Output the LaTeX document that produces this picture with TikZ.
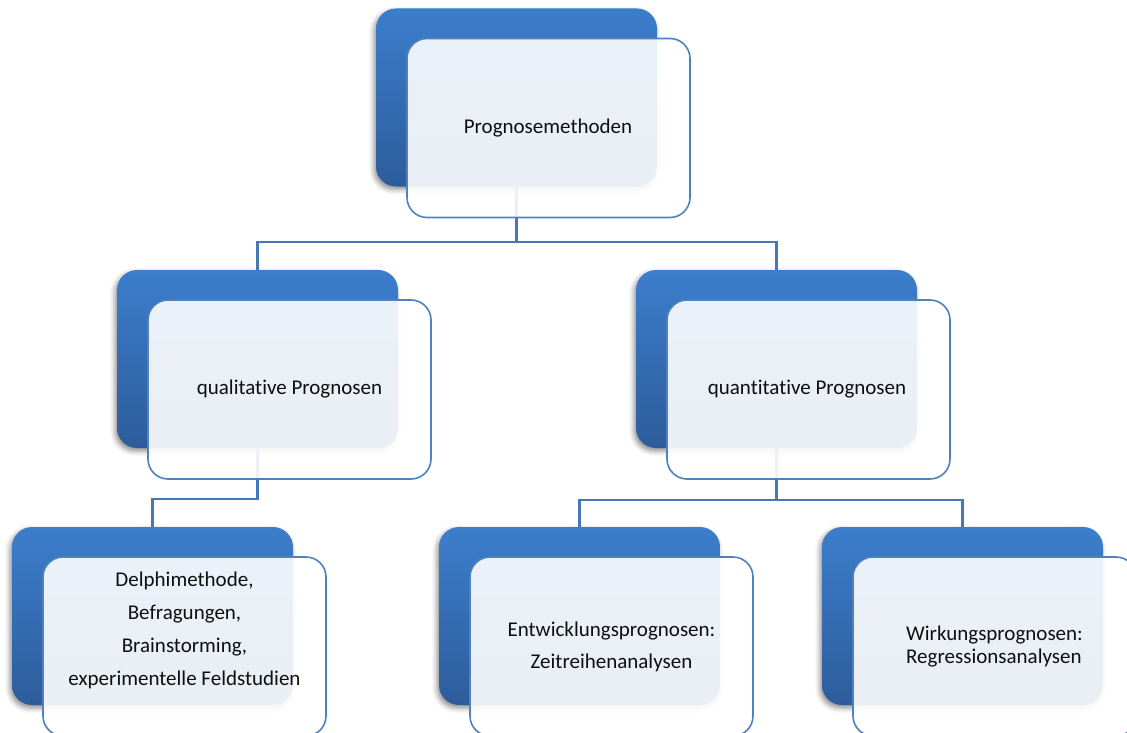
\documentclass[tikz,border=0pt]{standalone}
\usepackage{fontspec}
\setmainfont{Carlito}[Ligatures={NoCommon,NoContextual}]
\usetikzlibrary{shadows.blur}
\definecolor{bluetop}{RGB}{60,126,204}
\definecolor{bluebot}{RGB}{45,92,155}
\definecolor{frameblue}{RGB}{79,129,189}
\definecolor{linkblue}{RGB}{70,120,182}
\definecolor{txt}{RGB}{15,15,15}
\tikzset{
  backbox/.style={rectangle, rounded corners=20pt, minimum width=281pt, minimum height=178pt,
    top color=bluetop, bottom color=bluebot, draw=none, inner sep=0pt,
    blur shadow={shadow xshift=-2pt, shadow yshift=-3pt, shadow blur radius=5pt, shadow opacity=45}},
  frontbox/.style={rectangle, rounded corners=20pt, minimum width=283pt, minimum height=179pt,
    draw=frameblue, line width=1.6pt, fill=white, fill opacity=0.9, inner sep=0pt},
  conn/.style={draw=linkblue, line width=2.2pt},
  lbl/.style={text=txt, font=\fontsize{21}{25}\selectfont, align=center, inner sep=0pt},
}
\begin{document}
\begin{tikzpicture}[x=1pt,y=-1pt]
\useasboundingbox (0,0) rectangle (1127,733);
\clip (0,0) rectangle (1127,733);
% back boxes
\node[backbox] (b1) at (516.5,97.5) {};
\node[backbox] (b2) at (257.5,359) {};
\node[backbox] (b3) at (776.5,359) {};
\node[backbox] (b4) at (152.5,616) {};
\node[backbox] (b5) at (579.5,616) {};
\node[backbox] (b6) at (962.5,616) {};
% connectors
\draw[conn] (b1.south) -- ++(0,55.5) -| (b2.north);
\draw[conn] (b1.south) -- ++(0,55.5) -| (b3.north);
\draw[conn] (b2.south) -- ++(0,51) -| (b4.north);
\draw[conn] (b3.south) -- ++(0,52) -| (b5.north);
\draw[conn] (b3.south) -- ++(0,52) -| (b6.north);
% front boxes
\node[frontbox] (f1) at (548.5,128) {};
\node[frontbox] (f2) at (289.5,389.5) {};
\node[frontbox] (f3) at (808.5,389.5) {};
\node[frontbox] (f4) at (184.5,646.5) {};
\node[frontbox] (f5) at (611.5,646.5) {};
\node[frontbox] (f6) at (994.5,646.5) {};
% labels
\node[lbl] (t1) at ([xshift=-0.5pt]f1.center) {Prognosemethoden};
\node[lbl] (t2) at (f2.center) {qualitative Prognosen};
\node[lbl] (t3) at ([xshift=-1.5pt]f3.center) {quantitative Prognosen};
\node[lbl, font=\fontsize{21}{33}\selectfont] (t4) at ([yshift=16.5pt]f4.center)
  {Delphimethode,\\Befragungen,\\Brainstorming,\\experimentelle Feldstudien};
\node[lbl, font=\fontsize{21}{32}\selectfont] (t5) at (f5.center)
  {Entwicklungsprognosen:\\Zeitreihenanalysen};
\node[lbl, align=left, font=\fontsize{21}{23.5}\selectfont] (t6) at (f6.center)
  {Wirkungsprognosen:\\Regressionsanalysen};
\end{tikzpicture}
\end{document}
